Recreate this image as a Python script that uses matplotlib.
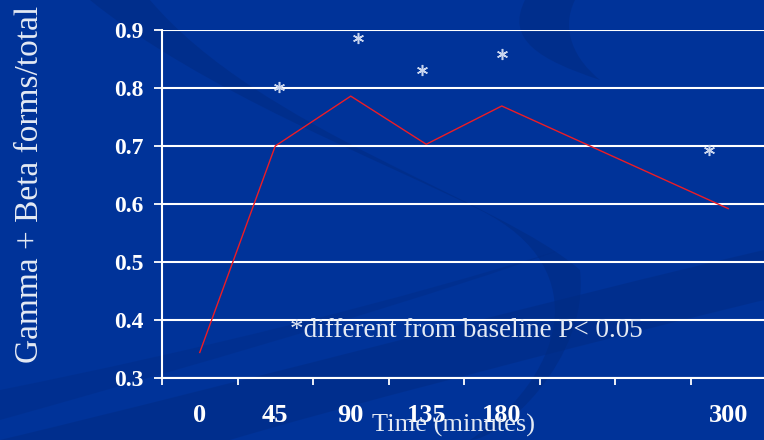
import numpy as np
import matplotlib
matplotlib.use("Agg")
import matplotlib.pyplot as plt
from matplotlib.path import Path
from matplotlib.patches import PathPatch

plt.rcParams["font.family"] = ["Liberation Serif", "DejaVu Serif"]

# sampling times (minutes); two empty slots before the 300 min point
time_labels = ["0", "45", "90", "135", "180", "", "", "300"]
gb_ratio = [0.344, 0.700, 0.786, 0.703, 0.769, np.nan, np.nan, 0.592]

# significance asterisks (position along the time axis, height)
star_pos = [1.05, 2.10, 2.95, 4.00, 6.75]
star_vals = [0.802, 0.886, 0.831, 0.858, 0.693]

BG = "#003399"
SWOOSH = "#002a80"
FG = "#e4eaf4"
W, H = 764, 440

fig = plt.figure(figsize=(W / 100, H / 100), dpi=100)
fig.patch.set_facecolor(BG)


def swoosh(pts, alpha):
    """Closed cubic-bezier shape given in pixel coords from the top-left."""
    verts = [(px / W, 1 - py / H) for px, py in pts]
    codes = [Path.MOVETO] + [Path.CURVE4] * (len(verts) - 1)
    fig.patches.append(PathPatch(Path(verts, codes), transform=fig.transFigure,
                                 facecolor=SWOOSH, edgecolor="none",
                                 alpha=alpha, zorder=0))


# background decoration: a long S-shaped band and two diagonal bands
swoosh([(90, 0), (200, 90), (380, 160), (480, 210),
        (600, 270), (560, 380), (470, 440),
        (500, 440), (590, 360), (580, 270),
        (500, 200), (260, 130), (150, 0)], 0.5)
swoosh([(0, 440), (250, 380), (550, 300), (764, 250),
        (764, 275), (764, 290), (764, 300),
        (560, 350), (330, 410), (230, 440)], 0.45)
swoosh([(0, 390), (200, 350), (400, 300), (560, 250),
        (450, 290), (250, 350), (0, 420),
        (0, 410), (0, 400), (0, 390)], 0.35)
swoosh([(525, 0), (505, 40), (540, 60), (600, 80),
        (575, 60), (560, 30), (575, 0),
        (560, 0), (540, 0), (525, 0)], 0.5)

ax = fig.add_axes([162 / W, 62 / H, 604 / W, 348 / H])
ax.set_facecolor("none")
ax.set_zorder(1)

x = np.arange(len(time_labels))
y = np.array(gb_ratio)
ok = ~np.isnan(y)
ax.plot(x[ok], y[ok], color="#ee1c25", lw=1.0, zorder=3)
ax.plot(star_pos, star_vals, linestyle="none", marker=(6, 2, 0),
        markersize=8, markeredgewidth=1.1, color="#c9d5ee", zorder=3)

ax.set_xlim(-0.5, len(time_labels) - 0.5)
ax.set_ylim(0.3, 0.9)

# horizontal gridlines at every tenth
yt = np.arange(0.3, 0.91, 0.1)
ax.set_yticks(yt)
ax.set_yticklabels([f"{v:.1f}" for v in yt],
                   fontsize=17, fontweight="bold", color="white")
ax.grid(axis="y", color="white", lw=1.5)
ax.set_axisbelow(True)

ax.set_xticks(np.arange(-0.5, len(time_labels) - 0.5))
ax.set_xticklabels([])
ax.set_xticks(x, labels=time_labels, minor=True)
for lab in ax.get_xticklabels(minor=True):
    lab.set_fontsize(19)
    lab.set_fontweight("bold")
    lab.set_color("white")
ax.tick_params(axis="x", which="major", length=5, width=1.3, color="white",
               direction="out")
ax.tick_params(axis="x", which="minor", length=0, pad=18.5)
ax.tick_params(axis="y", length=6, width=1.3, color="white", pad=7)

for side in ("top", "right"):
    ax.spines[side].set_visible(False)
for side in ("left", "bottom"):
    ax.spines[side].set_color("white")
    ax.spines[side].set_linewidth(1.5)

ax.set_ylabel("Gamma + Beta forms/total", fontsize=24, color=FG,
              va="center", ha="center")
ax.yaxis.set_label_coords(-0.2185, 0.555)
ax.set_xlabel("Time (minutes)", fontsize=19, color=FG, va="baseline")
ax.xaxis.set_label_coords(0.482, -0.155)

ax.text(1.19, 0.371, "*different from baseline P< 0.05", fontsize=19.5,
        color=FG, ha="left", va="baseline")

fig.savefig("out.png", dpi=100, facecolor=BG)
